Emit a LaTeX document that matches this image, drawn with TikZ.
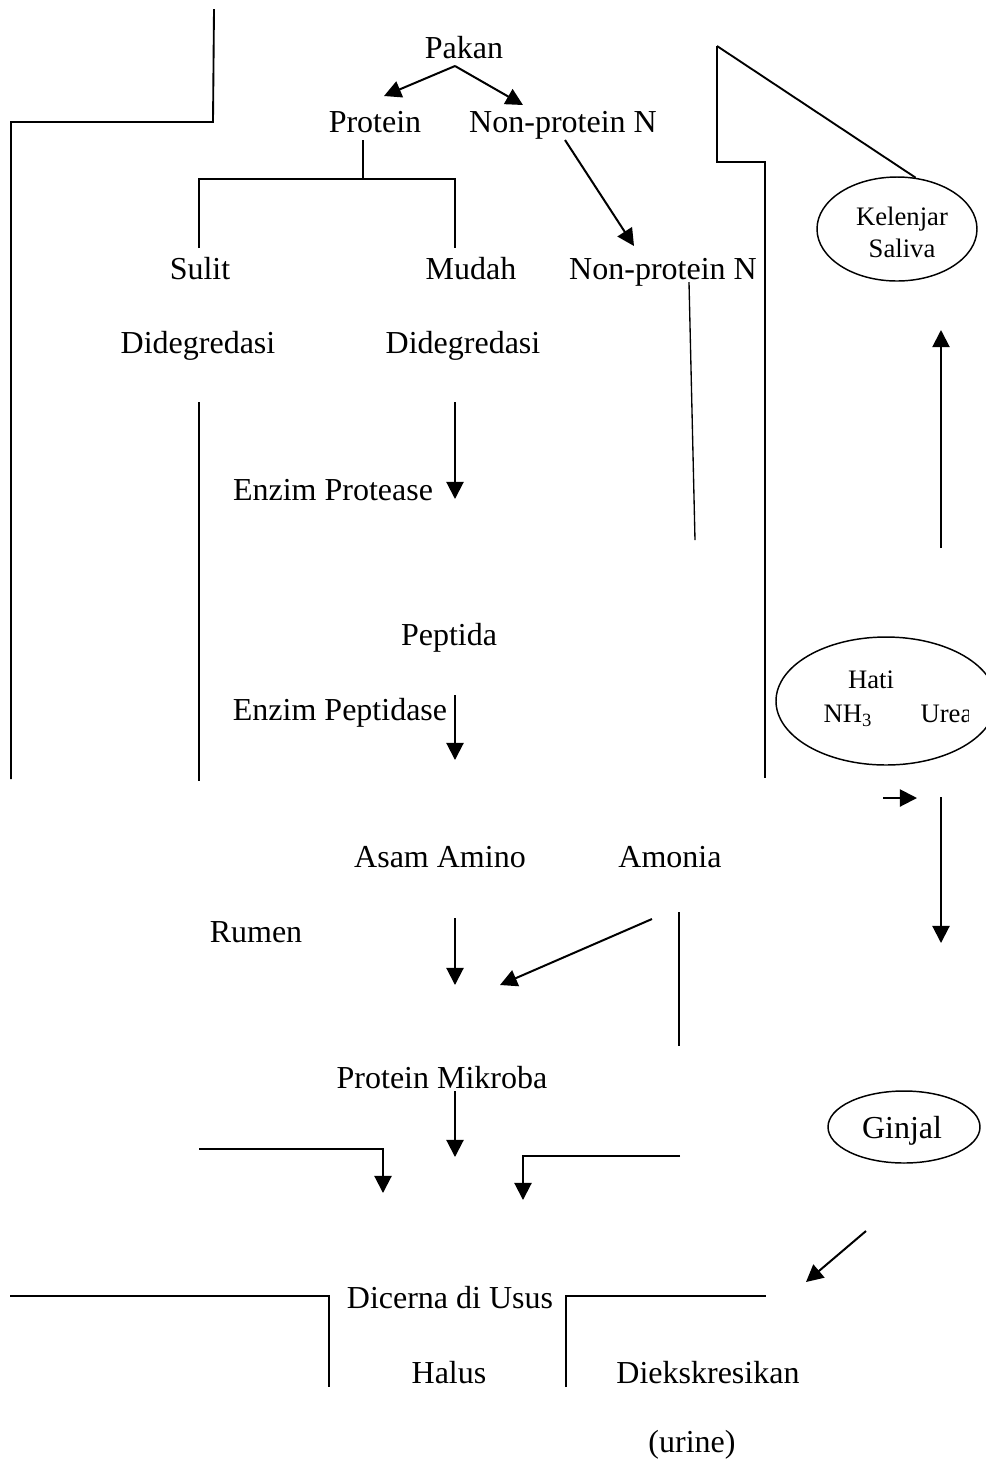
\documentclass[tikz,border=0pt]{standalone}
\usepackage{fontspec}
\setmainfont{Liberation Serif}
\usetikzlibrary{arrows.meta,shapes.geometric}

\begin{document}
\begin{tikzpicture}[
    x=0.375pt, y=-0.375pt,
    >={Triangle[length=6.4pt,width=6.4pt]},
    lbl/.style={anchor=base, inner sep=0pt, font=\fontsize{12}{14}\selectfont},
    lblsm/.style={anchor=base, inner sep=0pt, font=\fontsize{10}{12}\selectfont},
    organ/.style={ellipse, draw, line width=0.55pt, inner sep=0pt},
    ln/.style={line width=0.7pt},
    arr/.style={->, line width=0.75pt}
]
    \useasboundingbox (0,0) rectangle (985,1466);

    % texts
    \node[lbl] (pakan) at (464,58) {Pakan};
    \node[lbl] (prot) at (375,132) {Protein};
    \node[lbl] (npn) at (563,132) {Non-protein N};
    \node[lbl] (sulit) at (200,279) {Sulit};
    \node[lbl] (mudah) at (471,279) {Mudah};
    \node[lbl] (npnb) at (663,279) {Non-protein N};
    \node[lbl] (didegA) at (198,353) {Didegredasi};
    \node[lbl] (didegB) at (463,353) {Didegredasi};
    \node[lbl] (protease) at (333,500) {Enzim Protease};
    \node[lbl] (peptida) at (449,645) {Peptida};
    \node[lbl] (peptidase) at (340,720) {Enzim Peptidase};
    \node[lbl] (amino) at (440,867) {Asam Amino};
    \node[lbl] (amonia) at (670,867) {Amonia};
    \node[lbl] (rumen) at (256,942) {Rumen};
    \node[lbl] (mikroba) at (442,1088) {Protein Mikroba};
    \node[lbl] (dicerna) at (450,1308) {Dicerna di Usus};
    \node[lbl] (halus) at (449,1383) {Halus};
    \node[lbl] (ekskresi) at (708,1383) {Diekskresikan};
    \node[lbl] (urine) at (692,1452) {(urine)};

    % organs
    \node[organ, minimum width=60pt, minimum height=39pt] (kelenjar) at (897,229) {};
    \node[lblsm] (kel) at (902,225) {Kelenjar};
    \node[lblsm] (sal) at (902,257) {Saliva};
    \node[organ, minimum width=82.5pt, minimum height=48pt] (hati) at (886,701) {};
    \node[lblsm] (hatiT) at (871,688) {Hati};
    \node[lblsm, anchor=base west] (nh) at (823,722) {NH\textsubscript{3}};
    \begin{scope}
        \clip (900,690) rectangle (968,740);
        \node[lblsm, anchor=base west] (urea) at (920,722) {Urea};
    \end{scope}
    \node[organ, minimum width=57pt, minimum height=27pt] (ginjal) at (904,1127) {};
    \node[lbl] (ginjalT) at (902,1138) {Ginjal};

    % free ends
    \coordinate (pk) at (455,66);
    \coordinate (pkL) at (384,96);
    \coordinate (pkR) at (523,105);
    \coordinate (prS) at (363,140);
    \coordinate (brL) at (199,179);
    \coordinate (brR) at (455,179);
    \coordinate (npS) at (565,140);
    \coordinate (npE) at (634,246);
    \coordinate (npbS) at (689,282);
    \coordinate (npbE) at (695,540);
    \coordinate (suS) at (199,402);
    \coordinate (suE) at (199,781);
    \coordinate (muS) at (455,402);
    \coordinate (muE) at (455,499);
    \coordinate (peS) at (455,695);
    \coordinate (peE) at (455,760);
    \coordinate (amS) at (455,918);
    \coordinate (amE) at (455,985);
    \coordinate (anS) at (652,919);
    \coordinate (anE) at (500,985);
    \coordinate (avS) at (679,912);
    \coordinate (avE) at (679,1046);
    \coordinate (miS) at (455,1091);
    \coordinate (miE) at (455,1157);
    \coordinate (lbS) at (199,1149);
    \coordinate (lbE) at (383,1193);
    \coordinate (rbS) at (680,1156);
    \coordinate (rbE) at (523,1200);
    \coordinate (upS) at (941,548);
    \coordinate (upE) at (941,330);
    \coordinate (smS) at (883,798);
    \coordinate (smE) at (917,798);
    \coordinate (dnS) at (941,797);
    \coordinate (dnE) at (941,943);
    \coordinate (gjS) at (866,1231);
    \coordinate (gjE) at (806,1282);

    % rumen outline
    \draw[ln] (214,9) -- (213,122) -- (11,122) -- (11,779);
    \draw[ln] (717,46) -- (717,162) -- (765,162) -- (765,778);
    \draw[ln] (717,46) -- (kelenjar.70);
    \draw[ln] (10,1296) -- (329,1296) -- (329,1387);
    \draw[ln] (566,1387) -- (566,1296) -- (766,1296);

    % flows
    \draw[arr] (pk) -- (pkL);
    \draw[arr] (pk) -- (pkR);
    \draw[ln] (prS) -- (363,179);
    \draw[ln] (brL |- 0,248) -- (brL) -- (brR) -- (455,248);
    \draw[arr] (npS) -- (npE);
    \draw[line width=0.5pt] (npbS) -- (npbE);
    \draw[ln] (suS) -- (suE);
    \draw[arr] (muS) -- (muE);
    \draw[arr] (peS) -- (peE);
    \draw[arr] (amS) -- (amE);
    \draw[arr] (anS) -- (anE);
    \draw[ln] (avS) -- (avE);
    \draw[arr] (miS) -- (miE);
    \draw[arr] (lbS) -| (lbE);
    \draw[arr] (rbS) -| (rbE);
    \draw[arr] (upS) -- (upE);
    \draw[arr] (smS) -- (smE);
    \draw[arr] (dnS) -- (dnE);
    \draw[arr] (gjS) -- (gjE);
\end{tikzpicture}
\end{document}
